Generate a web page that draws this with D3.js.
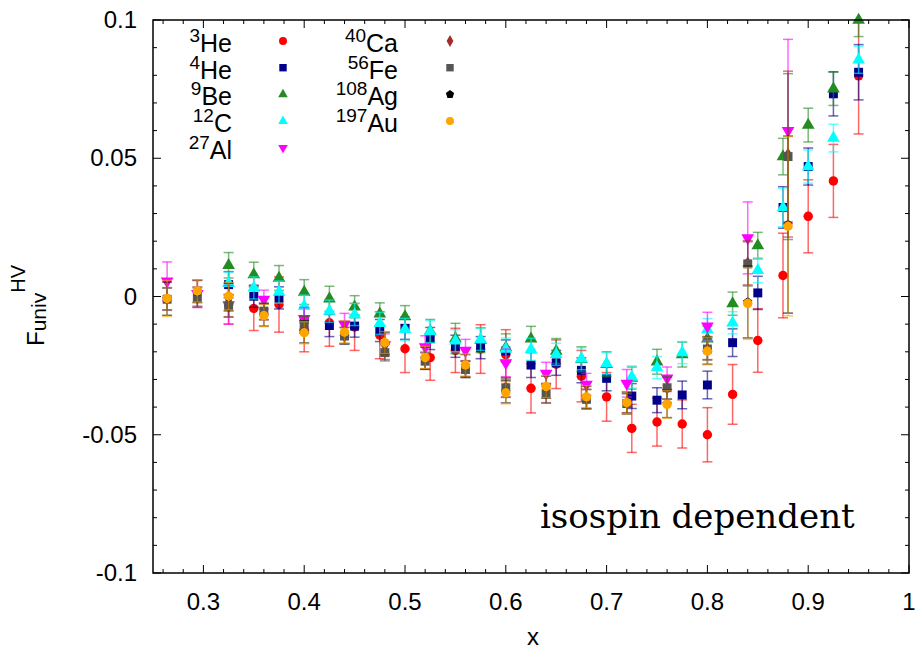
<!DOCTYPE html>
<html>
<head>
<meta charset="utf-8">
<script src="https://cdn.jsdelivr.net/npm/d3@7"></script>
<style>
body{margin:0;background:#fff;}
text{font-family:"Liberation Sans",Arial,sans-serif;}
</style>
</head>
<body>
<script>
// x bins
var xJlab = [0.325,0.35,0.375,0.4,0.425,0.45,0.475,0.5,0.525,0.55,0.575,0.6,0.625,0.65,0.675,0.7,0.725,0.75,0.775,0.8,0.825,0.85,0.875,0.9,0.925,0.95];
var xHeavy = [0.264,0.294,0.325,0.36,0.4,0.44,0.48,0.52,0.56,0.6,0.64,0.68,0.72,0.76,0.8,0.84,0.88];

// light nuclei (one value per xJlab bin)
var he3    = [-0.003,-0.0043,-0.0029,-0.012,-0.0095,-0.011,-0.014,-0.0189,-0.0221,-0.0195,-0.019,-0.021,-0.0332,-0.0245,-0.0288,-0.0363,-0.0477,-0.0454,-0.0461,-0.050,-0.0354,-0.0159,0.0076,0.029,0.0418,0.0798];
var he3Err = [0.007,0.008,0.010,0.008,0.0085,0.0085,0.0085,0.0086,0.0082,0.008,0.0088,0.009,0.0089,0.0088,0.0093,0.0088,0.0087,0.0087,0.0087,0.0098,0.0108,0.0115,0.0153,0.0132,0.0132,0.021];
var he4    = [0.0043,0.0001,-0.0005,-0.0083,-0.0105,-0.0107,-0.0123,-0.0115,-0.0152,-0.018,-0.0185,-0.0197,-0.0248,-0.024,-0.0267,-0.0296,-0.036,-0.0375,-0.0356,-0.032,-0.0167,0.0013,0.0322,0.047,0.0733,0.0811];
var he4Err = [0.0047,0.004,0.004,0.004,0.004,0.004,0.004,0.004,0.004,0.004,0.004,0.004,0.0045,0.0045,0.0045,0.0045,0.0045,0.0045,0.005,0.005,0.005,0.006,0.0075,0.0067,0.008,0.010];
var be9    = [0.0113,0.0079,0.0067,0.0016,-0.0008,-0.0037,-0.0063,-0.0073,-0.0125,-0.0152,-0.0158,-0.0185,-0.0153,-0.0197,-0.0227,-0.0245,-0.0295,-0.0236,-0.021,-0.0153,-0.0026,0.0184,0.0506,0.062,0.0751,0.100];
var be9Err = [0.0046,0.0045,0.0045,0.0045,0.0045,0.004,0.004,0.004,0.0042,0.0055,0.0045,0.005,0.0045,0.0045,0.0045,0.0045,0.004,0.0045,0.0045,0.0045,0.0042,0.0048,0.0066,0.0061,0.006,0.006];
var c12    = [0.0048,0.0031,0.0016,-0.0035,-0.0053,-0.0065,-0.0097,-0.0119,-0.0127,-0.016,-0.0155,-0.019,-0.0191,-0.0209,-0.0225,-0.0243,-0.0291,-0.0257,-0.0203,-0.012,-0.0095,0.0095,0.0322,0.047,0.0573,0.0856];
var c12Err = [0.004,0.004,0.004,0.004,0.004,0.004,0.004,0.004,0.004,0.004,0.004,0.004,0.004,0.004,0.004,0.004,0.004,0.004,0.004,0.004,0.004,0.0045,0.007,0.006,0.005,0.0049];

// heavier nuclei (one value per xHeavy bin)
var al27    = [0.0055,0.001,-0.003,-0.0011,-0.008,-0.0101,-0.0175,-0.0182,-0.0195,-0.024,-0.0278,-0.0318,-0.0314,-0.0295,-0.0107,0.0212,0.060];
var al27Err = [0.007,0.005,0.007,0.0034,0.004,0.004,0.004,0.004,0.004,0.005,0.004,0.004,0.005,0.004,0.005,0.013,0.033];
var ca40    = [-0.0008,0.0,-0.0033,-0.0055,-0.0103,-0.0141,-0.0198,-0.0231,-0.0262,-0.0328,-0.0349,-0.037,-0.0385,-0.0332,-0.0188,0.0122,0.0515];
var ca40Err = [0.004,0.0035,0.004,0.003,0.003,0.003,0.003,0.003,0.003,0.0035,0.0035,0.0035,0.0035,0.004,0.004,0.008,0.03];
var fe56    = [-0.001,-0.0004,-0.0035,-0.0053,-0.0101,-0.0143,-0.0203,-0.0234,-0.0264,-0.033,-0.0351,-0.0372,-0.0387,-0.033,-0.019,0.0118,0.0506];
var fe56Err = [0.004,0.0035,0.004,0.003,0.003,0.003,0.003,0.003,0.003,0.0035,0.0035,0.0035,0.0035,0.004,0.004,0.008,0.03];
var ag108    = [-0.0008,0.0018,-0.0002,-0.0067,-0.0128,-0.013,-0.0169,-0.0223,-0.025,-0.0345,-0.0328,-0.0365,-0.0385,-0.0388,-0.0195,-0.002,0.026];
var ag108Err = [0.006,0.004,0.005,0.004,0.004,0.004,0.004,0.004,0.004,0.004,0.004,0.004,0.004,0.005,0.005,0.013,0.032];
var au197    = [-0.0007,0.002,0.0001,-0.0069,-0.0131,-0.0129,-0.0167,-0.0221,-0.0248,-0.0348,-0.0326,-0.0363,-0.0384,-0.039,-0.0197,-0.0025,0.0254];
var au197Err = [0.0065,0.004,0.005,0.004,0.004,0.004,0.004,0.004,0.004,0.004,0.004,0.004,0.004,0.005,0.005,0.013,0.0324];

var xTicks = [0.3,0.4,0.5,0.6,0.7,0.8,0.9,1];
var xTickLabels = ["0.3","0.4","0.5","0.6","0.7","0.8","0.9","1"];
var yTicks = [-0.1,-0.05,0,0.05,0.1];
var yTickLabels = ["-0.1","-0.05","0","0.05","0.1"];

// pentagon for Ag
var pentagon = {
  draw: function(ctx, size){
    var r = Math.sqrt(size/2.378);
    for (var i=0;i<5;i++){
      var a = -Math.PI/2 + i*2*Math.PI/5;
      if(i==0) ctx.moveTo(r*Math.cos(a), r*Math.sin(a));
      else ctx.lineTo(r*Math.cos(a), r*Math.sin(a));
    }
    ctx.closePath();
  }
};

var series = [
  {a:"3",   el:"He", x:xJlab,  y:he3,   e:he3Err,   color:"#ff0000", shape:d3.symbolCircle,   size:70, rot:0,   lsize:50},
  {a:"4",   el:"He", x:xJlab,  y:he4,   e:he4Err,   color:"#00008b", shape:d3.symbolSquare,   size:80, rot:0,   lsize:55},
  {a:"9",   el:"Be", x:xJlab,  y:be9,   e:be9Err,   color:"#228b22", shape:d3.symbolTriangle, size:70, rot:0,   lsize:40},
  {a:"12",  el:"C",  x:xJlab,  y:c12,   e:c12Err,   color:"#00ffff", shape:d3.symbolTriangle, size:70, rot:0,   lsize:40},
  {a:"27",  el:"Al", x:xHeavy, y:al27,  e:al27Err,  color:"#ff00ff", shape:d3.symbolTriangle, size:70, rot:180, lsize:40},
  {a:"40",  el:"Ca", x:xHeavy, y:ca40,  e:ca40Err,  color:"#a52a2a", shape:d3.symbolDiamond,  size:50, rot:0,   lsize:40},
  {a:"56",  el:"Fe", x:xHeavy, y:fe56,  e:fe56Err,  color:"#555555", shape:d3.symbolSquare,   size:80, rot:0,   lsize:55},
  {a:"108", el:"Ag", x:xHeavy, y:ag108, e:ag108Err, color:"#000000", shape:pentagon,         size:55, rot:0,   lsize:45},
  {a:"197", el:"Au", x:xHeavy, y:au197, e:au197Err, color:"#ffa500", shape:d3.symbolCircle,   size:70, rot:0,   lsize:50}
];

var width = 917, height = 651;
var pLeft = 153, pRight = 909, pTop = 20, pBottom = 573;

var svg = d3.select("body").append("svg")
  .attr("width", width).attr("height", height);

var x = d3.scaleLinear().domain([0.25, 1]).range([pLeft, pRight]);
var y = d3.scaleLinear().domain([-0.1, 0.1]).range([pBottom, pTop]);

// ticks (inside, mirrored)
var ticks = svg.append("g").attr("stroke", "#000").attr("stroke-width", 1);
d3.range(0.26, 1.0001, 0.02).forEach(function(v){
  var major = Math.abs(v*10 - Math.round(v*10)) < 1e-6;
  var len = major ? 8 : 4;
  ticks.append("line").attr("x1", x(v)).attr("x2", x(v)).attr("y1", pBottom).attr("y2", pBottom - len);
  ticks.append("line").attr("x1", x(v)).attr("x2", x(v)).attr("y1", pTop).attr("y2", pTop + len);
});
d3.range(-0.1, 0.10001, 0.01).forEach(function(v){
  var major = Math.abs(v*20 - Math.round(v*20)) < 1e-6;
  var len = major ? 8 : 4;
  ticks.append("line").attr("y1", y(v)).attr("y2", y(v)).attr("x1", pLeft).attr("x2", pLeft + len);
  ticks.append("line").attr("y1", y(v)).attr("y2", y(v)).attr("x1", pRight).attr("x2", pRight - len);
});

svg.selectAll(".xl").data(xTicks).enter().append("text")
  .attr("x", function(d){ return x(d); }).attr("y", 610)
  .attr("text-anchor", "middle").attr("font-size", 24)
  .text(function(d,i){ return xTickLabels[i]; });

svg.selectAll(".yl").data(yTicks).enter().append("text")
  .attr("x", 137).attr("y", function(d){ return y(d) + 8; })
  .attr("text-anchor", "end").attr("font-size", 24)
  .text(function(d,i){ return yTickLabels[i]; });

// axis titles
svg.append("text").attr("x", 533).attr("y", 645).attr("text-anchor", "middle")
  .attr("font-size", 24).text("x");

var yt = svg.append("text").attr("transform", "translate(44,346) rotate(-90)").attr("font-size", 24);
yt.append("tspan").text("F");
yt.append("tspan").attr("dy", 2).attr("font-size", 21).text("univ");
yt.append("tspan").attr("dy", -21).attr("font-size", 20).text("HV");

// data
var plot = svg.append("g");
series.forEach(function(s){
  var g = plot.append("g");
  var pts = s.x.map(function(xv, i){ return {x:xv, y:s.y[i], e:s.e[i]}; });
  var bars = g.append("g").attr("stroke", s.color).attr("stroke-opacity", 0.6).attr("stroke-width", 1.5);
  pts.forEach(function(p){
    var y0 = Math.max(y(p.y + p.e), pTop), y1 = Math.min(y(p.y - p.e), pBottom);
    var cx = x(p.x);
    bars.append("line").attr("x1", cx).attr("x2", cx).attr("y1", y0).attr("y2", y1);
    if (y(p.y + p.e) >= pTop) bars.append("line").attr("x1", cx-5).attr("x2", cx+5).attr("y1", y0).attr("y2", y0);
    bars.append("line").attr("x1", cx-5).attr("x2", cx+5).attr("y1", y1).attr("y2", y1);
  });
  g.selectAll("path").data(pts).enter().append("path")
    .attr("d", d3.symbol().type(s.shape).size(s.size))
    .attr("transform", function(d){ return "translate(" + x(d.x) + "," + y(d.y) + ") rotate(" + s.rot + ")"; })
    .attr("fill", s.color);
});

// frame
svg.append("rect").attr("x", pLeft).attr("y", pTop).attr("width", pRight-pLeft).attr("height", pBottom-pTop)
  .attr("fill", "none").attr("stroke", "#000").attr("stroke-width", 1.5);

// legend
var legend = svg.append("g");
series.forEach(function(s, i){
  var col = i < 5 ? 0 : 1;
  var row = i < 5 ? i : i - 5;
  var tx = col == 0 ? 232 : 398;
  var sx = col == 0 ? 283 : 450;
  var cy = 41 + row * 26.7;
  var t = legend.append("text").attr("x", tx).attr("y", cy + 11).attr("text-anchor", "end").attr("font-size", 25);
  t.append("tspan").attr("dy", -10).attr("font-size", 19).text(s.a);
  t.append("tspan").attr("dy", 10).text(s.el);
  legend.append("path").attr("d", d3.symbol().type(s.shape).size(s.lsize))
    .attr("transform", "translate(" + sx + "," + cy + ") rotate(" + s.rot + ")")
    .attr("fill", s.color);
});

svg.append("text").attr("x", 540).attr("y", 528)
  .style("font-family", "'DejaVu Serif', serif").attr("font-size", 34)
  .text("isospin dependent");
</script>
</body>
</html>
